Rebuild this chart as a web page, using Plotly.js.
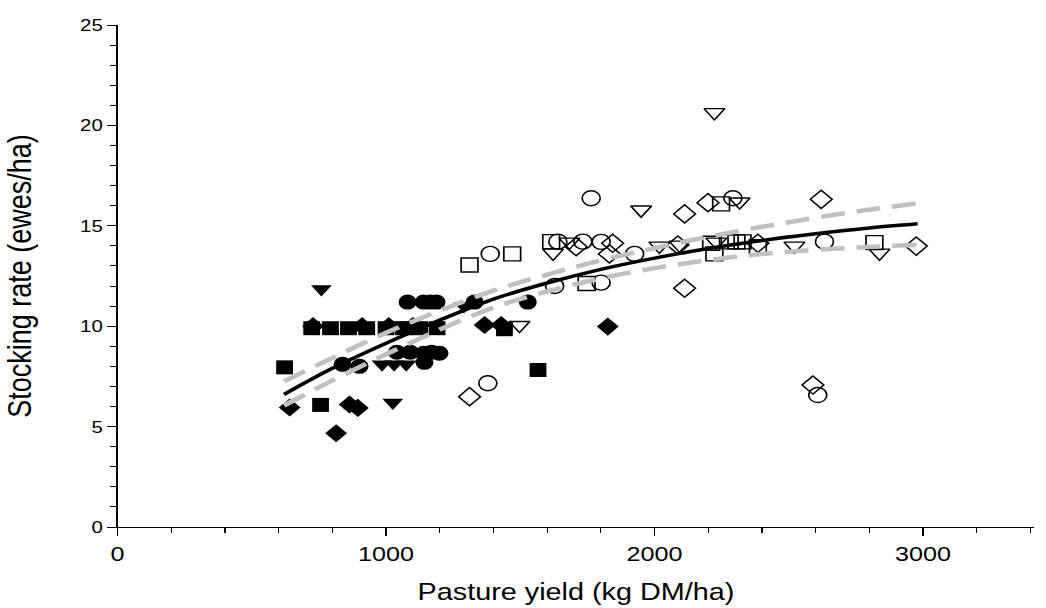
<!DOCTYPE html>
<html><head><meta charset="utf-8">
<script src="https://cdn.plot.ly/plotly-3.0.1.min.js"></script>
<style>
html,body{margin:0;padding:0;background:#fff;overflow:hidden;width:1046px;height:608px}
#chart{width:872px;height:608px;transform:scaleX(1.2);transform-origin:0 0}
</style>
</head><body><div id="chart"></div>
<script>
// Filled circles
var fcX = [838, 901, 1080, 1140, 1165, 1188, 1040, 1090, 1140, 1170, 1199, 1143, 1330, 1528];
var fcY = [8.1, 8.0, 11.2, 11.2, 11.2, 11.2, 8.7, 8.7, 8.65, 8.7, 8.65, 8.2, 11.2, 11.2];
// Filled squares
var fsX = [622, 723, 793, 860, 928, 1000, 1065, 1125, 1190, 756, 1441, 1566];
var fsY = [7.95, 9.9, 9.9, 9.9, 9.9, 9.9, 9.9, 9.9, 9.9, 6.08, 9.85, 7.82];
// Filled diamonds
var fdX = [641, 814, 864, 895, 1367, 1429, 1826, 728, 911, 1010, 1100];
var fdY = [5.95, 4.67, 6.1, 5.93, 10.06, 10.06, 9.98, 10.0, 10.0, 10.0, 10.0];
// Filled triangles (down)
var ftX = [759, 1025, 985, 1030, 1075, 1290, 1050];
var ftY = [11.85, 6.2, 8.1, 8.1, 8.1, 11.0, 10.05];
// Open circles
var ocX = [1379, 1388, 1764, 1640, 1733, 1801, 1926, 1628, 1801, 2292, 2633, 2608];
var ocY = [7.16, 13.6, 16.37, 14.21, 14.21, 14.2, 13.6, 12.0, 12.17, 16.37, 14.21, 6.57];
// Open squares
var osX = [1311, 1470, 1615, 1747, 2211, 2223, 2248, 2280, 2305, 2328, 2385, 2819];
var osY = [13.05, 13.6, 14.21, 12.13, 14.13, 13.6, 16.09, 14.2, 14.2, 14.2, 13.96, 14.16];
// Open triangles (down)
var otX = [1497, 1622, 1683, 1950, 2018, 2093, 2223, 2317, 2230, 2521, 2838];
var otY = [10.05, 13.65, 14.2, 15.8, 14.0, 14.05, 20.65, 16.2, 14.2, 14.0, 13.65];
// Open diamonds
var odX = [1311, 1708, 1844, 1832, 2112, 2087, 2112, 2199, 2385, 2621, 2975, 2590];
var odY = [6.49, 13.96, 14.13, 13.6, 15.59, 14.04, 11.89, 16.15, 14.13, 16.32, 13.99, 7.07];
// Fitted curve and confidence bands
var fitX = [620, 800, 1000, 1200, 1400, 1600, 1800, 2000, 2200, 2400, 2600, 2800, 2980];
var fitY = [6.6, 7.9, 9.15, 10.3, 11.35, 12.15, 12.83, 13.39, 13.87, 14.27, 14.6, 14.89, 15.1];
var upY  = [7.25, 8.42, 9.67, 10.77, 11.77, 12.57, 13.28, 13.89, 14.45, 14.95, 15.4, 15.8, 16.12];
var loY  = [6.05, 7.3, 8.6, 9.83, 10.93, 11.73, 12.38, 12.89, 13.29, 13.6, 13.8, 13.95, 14.05];
var xTicks = [0, 1000, 2000, 3000];
var yTicks = [0, 5, 10, 15, 20, 25];

function mk(x, y, sym, size, open) {
  return {x: x, y: y, type: 'scatter', mode: 'markers', showlegend: false, hoverinfo: 'skip',
    marker: {symbol: sym, size: size, color: '#000',
      line: {color: '#000', width: open ? 1.4 : 0}}};
}
var traces = [
  mk(fsX, fsY, 'square', 14, false),
  mk(fdX, fdY, 'diamond', 14, false),
  mk(ftX, ftY, 'triangle-down', 15, false),
  mk(fcX, fcY, 'circle', 15, false),
  mk(ocX, ocY, 'circle-open', 15, true),
  mk(osX, osY, 'square-open', 14, true),
  mk(otX, otY, 'triangle-down-open', 15, true),
  mk(odX, odY, 'diamond-open', 14, true),
  {x: fitX, y: upY, type: 'scatter', mode: 'lines', showlegend: false, hoverinfo: 'skip',
   line: {color: '#c0c0c0', width: 4.5, dash: '20px,10px', shape: 'spline'}},
  {x: fitX, y: loY, type: 'scatter', mode: 'lines', showlegend: false, hoverinfo: 'skip',
   line: {color: '#c0c0c0', width: 4.5, dash: '20px,10px', shape: 'spline'}},
  {x: fitX, y: fitY, type: 'scatter', mode: 'lines', showlegend: false, hoverinfo: 'skip',
   line: {color: '#000', width: 3.5, shape: 'spline'}}
];
var fam = 'Liberation Sans, Arial, sans-serif';
var layout = {
  width: 872, height: 608,
  margin: {l: 98.3, r: 10, t: 25, b: 81},
  paper_bgcolor: '#fff', plot_bgcolor: '#fff',
  showlegend: false,
  xaxis: {range: [0, 3415], tickmode: 'array', tickvals: xTicks, ticktext: xTicks.map(String),
    ticks: 'outside', ticklen: 8, tickwidth: 1, tickcolor: '#000',
    showline: true, linecolor: '#000', linewidth: 1, showgrid: false, zeroline: false,
    minor: {tick0: 0, dtick: 200, ticks: 'outside', ticklen: 5, tickcolor: '#000', showgrid: false},
    tickfont: {family: fam, size: 21, color: '#000'},
    title: {text: 'Pasture yield (kg DM/ha)', font: {family: fam, size: 24, color: '#000'}, standoff: 19}},
  yaxis: {range: [0, 25], tickmode: 'array', tickvals: yTicks, ticktext: yTicks.map(String),
    ticks: 'outside', ticklen: 8, tickwidth: 1, tickcolor: '#000',
    showline: true, linecolor: '#000', linewidth: 1, showgrid: false, zeroline: false,
    minor: {tick0: 0, dtick: 1, ticks: 'outside', ticklen: 5, tickcolor: '#000', showgrid: false},
    tickfont: {family: fam, size: 17, color: '#000'},
    title: {text: 'Stocking rate (ewes/ha)', font: {family: fam, size: 27, color: '#000'}, standoff: 32}}
};
Plotly.newPlot('chart', traces, layout, {displayModeBar: false, staticPlot: true});
</script></body></html>
